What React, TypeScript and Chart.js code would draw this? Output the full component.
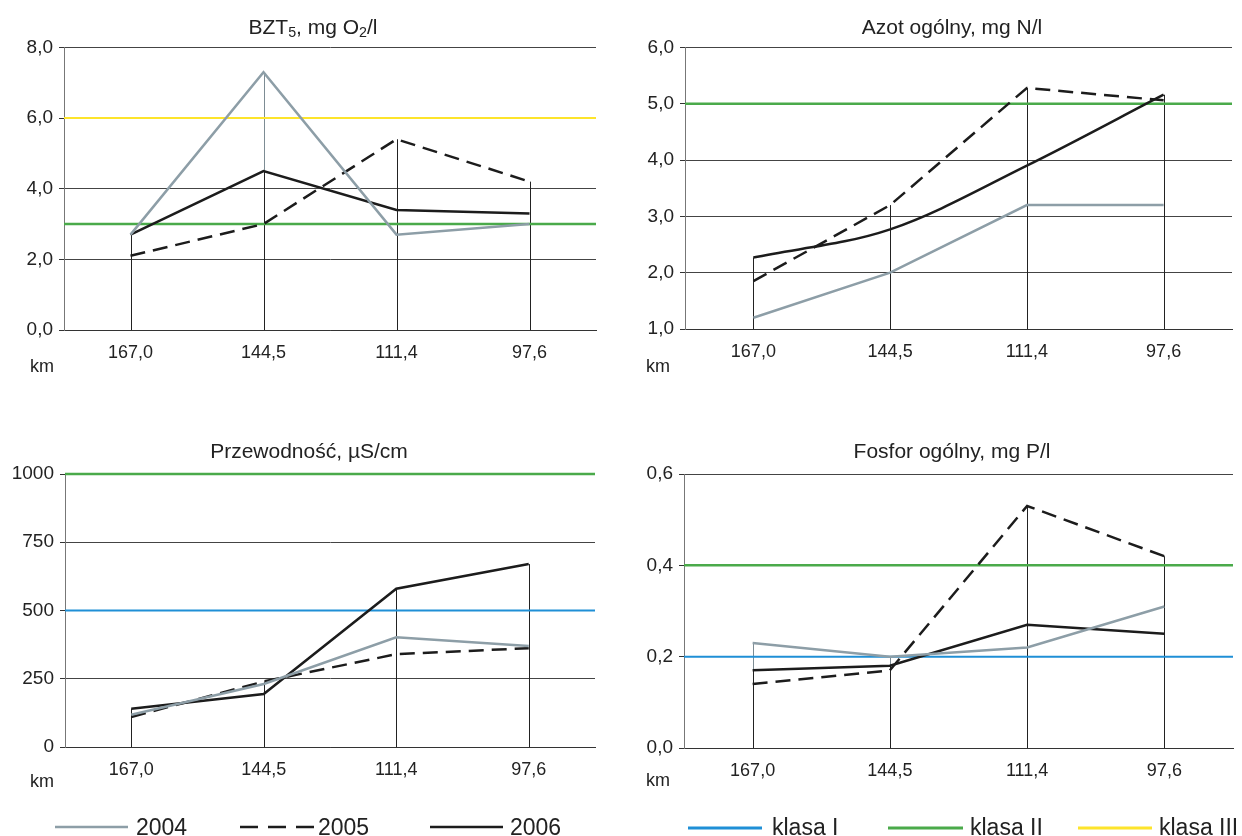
import React, { useEffect, useRef } from 'react';
import { Chart, registerables } from 'chart.js';

Chart.register(...registerables);

const FONT = '"Liberation Sans", Arial, Helvetica, sans-serif';

// ---- data ----
const kmLabels = ['167,0', '144,5', '111,4', '97,6'];
const years = ['2004', '2005', '2006'];
const classNames = ['klasa I', 'klasa II', 'klasa III'];

const bzt2004 = [2.7, 7.3, 2.7, 3.0];
const bzt2005 = [2.1, 3.0, 5.4, 4.2];
const bzt2006 = [2.7, 4.5, 3.4, 3.3];

const azot2004 = [1.2, 2.0, 3.2, 3.2];
const azot2005 = [1.85, 3.2, 5.28, 5.06];
const azot2006 = [2.27, 2.77, 3.9, 5.16];

const przew2004 = [118, 231, 402, 370];
const przew2005 = [110, 240, 340, 362];
const przew2006 = [140, 194, 580, 670];

const fosfor2004 = [0.23, 0.2, 0.22, 0.31];
const fosfor2005 = [0.14, 0.17, 0.53, 0.42];
const fosfor2006 = [0.17, 0.18, 0.27, 0.25];

const bztTicks = ['0,0', '2,0', '4,0', '6,0', '8,0'];
const azotTicks = ['1,0', '2,0', '3,0', '4,0', '5,0', '6,0'];
const przewTicks = ['0', '250', '500', '750', '1000'];
const fosforTicks = ['0,0', '0,2', '0,4', '0,6'];

// class limits: [value, class index]
const bztLimits = [[3.0, 1], [6.0, 2]];
const azotLimits = [[5.0, 1]];
const przewLimits = [[500, 0], [1000, 1]];
const fosforLimits = [[0.2, 0], [0.4, 1]];

// ---- styles ----
const GRAY = '#8d9ea7';
const BLACK = '#1c1c1c';
const BLUE = '#1f8fd6';
const GREEN = '#4aaa4a';
const YELLOW = '#fde42b';
const classColors = [BLUE, GREEN, YELLOW];
const classWidths = [2, 2.5, 2];

const seriesStyle = [
  { color: GRAY, dash: [] as number[], drop: '#7d8c94' },
  { color: BLACK, dash: [15, 8], drop: '#222' },
  { color: BLACK, dash: [] as number[], drop: '#222' },
];

type Rect = { x: number; y: number; w: number; h: number };
type Plot = { l: number; t: number; r: number; b: number };

type PanelDef = {
  title: React.ReactNode;
  titleX: number;
  titleTop: number;
  kmX: number;
  kmTop: number;
  series: number[][];
  smooth: boolean[];
  min: number;
  max: number;
  step: number;
  ticks: string[];
  limits: number[][];
  canvas: Rect;
  plot: Plot;
};

const sub = (t: string) => (
  <span style={{ fontSize: '0.68em', verticalAlign: '-0.22em' }}>{t}</span>
);

const panels: PanelDef[] = [
  {
    title: <>BZT{sub('5')}, mg O{sub('2')}/l</>,
    titleX: 313, titleTop: 16, kmX: 30, kmTop: 357,
    series: [bzt2004, bzt2005, bzt2006], smooth: [false, false, false],
    min: 0, max: 8, step: 2, ticks: bztTicks, limits: bztLimits,
    canvas: { x: 0, y: 30, w: 620, h: 350 }, plot: { l: 64, t: 46, r: 596, b: 330 },
  },
  {
    title: <>Azot ogólny, mg N/l</>,
    titleX: 952, titleTop: 16, kmX: 646, kmTop: 357,
    series: [azot2004, azot2005, azot2006], smooth: [false, false, true],
    min: 1, max: 6, step: 1, ticks: azotTicks, limits: azotLimits,
    canvas: { x: 620, y: 30, w: 622, h: 350 }, plot: { l: 685, t: 47, r: 1232, b: 329 },
  },
  {
    title: <>Przewodność, µS/cm</>,
    titleX: 309, titleTop: 440, kmX: 30, kmTop: 772,
    series: [przew2004, przew2005, przew2006], smooth: [false, false, false],
    min: 0, max: 1000, step: 250, ticks: przewTicks, limits: przewLimits,
    canvas: { x: 0, y: 455, w: 620, h: 340 }, plot: { l: 65, t: 474, r: 595, b: 747 },
  },
  {
    title: <>Fosfor ogólny, mg P/l</>,
    titleX: 952, titleTop: 440, kmX: 646, kmTop: 771,
    series: [fosfor2004, fosfor2005, fosfor2006], smooth: [false, false, false],
    min: 0, max: 0.6, step: 0.2, ticks: fosforTicks, limits: fosforLimits,
    canvas: { x: 620, y: 455, w: 622, h: 340 }, plot: { l: 684, t: 474, r: 1233, b: 748 },
  },
];

function makeRefPlugin(limits: number[][]) {
  return {
    id: 'refLines',
    beforeDatasetsDraw(chart: any) {
      const { ctx, chartArea } = chart;
      const yScale = chart.scales.y;
      ctx.save();
      // drop lines from each point down to the axis
      chart.data.datasets.forEach((ds: any, i: number) => {
        const meta = chart.getDatasetMeta(i);
        meta.data.forEach((pt: any) => {
          const x = Math.round(pt.x) + 0.5;
          ctx.beginPath();
          ctx.setLineDash([]);
          ctx.strokeStyle = ds.dropColor;
          ctx.lineWidth = 1;
          ctx.moveTo(x, pt.y);
          ctx.lineTo(x, chartArea.bottom);
          ctx.stroke();
        });
      });
      // class limit lines
      limits.forEach(([value, cls]) => {
        const py = yScale.getPixelForValue(value);
        ctx.beginPath();
        ctx.strokeStyle = classColors[cls];
        ctx.lineWidth = classWidths[cls];
        ctx.moveTo(chartArea.left, py);
        ctx.lineTo(chartArea.right, py);
        ctx.stroke();
      });
      ctx.restore();
    },
  };
}

function ChartPanel({ p }: { p: PanelDef }) {
  const ref = useRef<HTMLCanvasElement>(null);
  const c = p.canvas;
  const plot = p.plot;
  useEffect(() => {
    if (!ref.current) return;
    const chart = new Chart(ref.current, {
      type: 'line',
      data: {
        labels: kmLabels,
        datasets: p.series.map((vals, i) => ({
          label: years[i],
          data: vals,
          borderColor: seriesStyle[i].color,
          borderWidth: 2.5,
          borderDash: seriesStyle[i].dash,
          pointRadius: 0,
          pointHoverRadius: 0,
          fill: false,
          tension: 0,
          cubicInterpolationMode: p.smooth[i] ? 'monotone' : 'default',
          dropColor: seriesStyle[i].drop,
        })) as any,
      },
      options: {
        responsive: false,
        maintainAspectRatio: false,
        animation: false,
        events: [],
        layout: {
          padding: { left: 0, top: plot.t - c.y, right: c.x + c.w - plot.r, bottom: 0 },
        },
        plugins: {
          legend: { display: false },
          title: { display: false },
          tooltip: { enabled: false },
        },
        scales: {
          x: {
            type: 'category',
            offset: true,
            grid: { display: false },
            border: { display: true, color: '#333', width: 1 },
            ticks: {
              color: '#222',
              font: { family: FONT, size: 18 },
              padding: 4,
              maxRotation: 0,
              autoSkip: false,
            },
            afterFit: (s: any) => {
              s.height = c.y + c.h - plot.b;
            },
          },
          y: {
            type: 'linear',
            min: p.min,
            max: p.max,
            ticks: {
              stepSize: p.step,
              color: '#222',
              font: { family: FONT, size: 19 },
              padding: 6,
              callback: (_v: any, i: number) => p.ticks[i],
            },
            grid: { color: '#444', lineWidth: 1, tickLength: 5, drawTicks: true, tickColor: '#333' },
            border: { display: true, color: '#777', width: 1 },
            afterFit: (s: any) => {
              s.width = plot.l - c.x;
            },
          },
        },
      } as any,
      plugins: [makeRefPlugin(p.limits)],
    });
    return () => chart.destroy();
  }, []);
  return (
    <>
      <canvas
        ref={ref}
        width={c.w}
        height={c.h}
        style={{ position: 'absolute', left: c.x, top: c.y, width: c.w, height: c.h }}
      />
      <div
        style={{
          position: 'absolute', left: p.titleX - 200, top: p.titleTop, width: 400,
          textAlign: 'center', fontFamily: FONT, fontSize: 21, lineHeight: '21px', color: '#222',
          whiteSpace: 'nowrap',
        }}
      >
        {p.title}
      </div>
      <div
        style={{
          position: 'absolute', left: p.kmX, top: p.kmTop, fontFamily: FONT,
          fontSize: 18, lineHeight: '18px', color: '#222',
        }}
      >
        km
      </div>
    </>
  );
}

const yearLegend = [
  { x1: 55, x2: 128, tx: 136 },
  { x1: 240, x2: 316, tx: 318 },
  { x1: 430, x2: 503, tx: 510 },
];
const classLegend = [
  { x1: 688, x2: 762, tx: 772 },
  { x1: 888, x2: 963, tx: 970 },
  { x1: 1078, x2: 1152, tx: 1159 },
];

export default function App() {
  const textStyle = (left: number): React.CSSProperties => ({
    position: 'absolute', left, top: 816, fontFamily: FONT, fontSize: 23,
    lineHeight: '23px', color: '#222', whiteSpace: 'nowrap',
  });
  return (
    <div
      style={{
        position: 'absolute', left: 0, top: 0, width: 1242, height: 836,
        overflow: 'hidden', background: '#fff',
      }}
    >
      {panels.map((p, i) => (
        <ChartPanel key={i} p={p} />
      ))}
      <svg width={1242} height={836} style={{ position: 'absolute', left: 0, top: 0, pointerEvents: 'none' }}>
        {yearLegend.map((l, i) => (
          <line
            key={'y' + i}
            x1={l.x1} x2={l.x2} y1={827} y2={827}
            stroke={seriesStyle[i].color} strokeWidth={2.5}
            strokeDasharray={i === 1 ? '18 10' : undefined}
          />
        ))}
        {classLegend.map((l, i) => (
          <line
            key={'c' + i}
            x1={l.x1} x2={l.x2} y1={828} y2={828}
            stroke={classColors[i]} strokeWidth={3}
          />
        ))}
      </svg>
      {yearLegend.map((l, i) => (
        <div key={'yt' + i} style={textStyle(l.tx)}>{years[i]}</div>
      ))}
      {classLegend.map((l, i) => (
        <div key={'ct' + i} style={textStyle(l.tx)}>{classNames[i]}</div>
      ))}
    </div>
  );
}
